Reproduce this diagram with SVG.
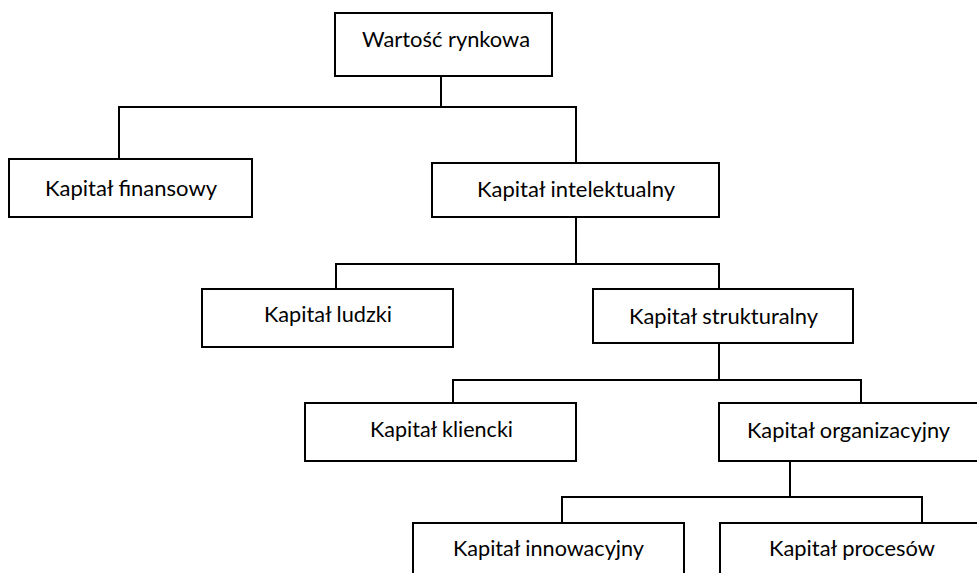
<svg xmlns="http://www.w3.org/2000/svg" width="977" height="573" viewBox="0 0 977 573">
<style>
.box{fill:#fff;stroke:#000;stroke-width:2}
.lbl{font-family:Lato,"Open Sans","Liberation Sans",sans-serif;font-size:22px;fill:#000}
.con{fill:none;stroke:#000;stroke-width:2}
</style>
<rect width="977" height="573" fill="#fff"/>
<g id="connectors">
<path class="con" d="M441,76V107M119,159V107H576V163"/>
<path class="con" d="M576,217V264M336,289V264H719V289"/>
<path class="con" d="M719,343V380M453,403V380H861V403"/>
<path class="con" d="M790,461V497M562,523V497H922V523"/>
</g>
<g id="n-wartosc"><rect class="box" x="335" y="13" width="217" height="63"/><text class="lbl" x="362" y="47" textLength="168" lengthAdjust="spacingAndGlyphs">Wartość rynkowa</text></g>
<g id="n-finansowy"><rect class="box" x="9" y="159" width="243" height="58"/><text class="lbl" x="45" y="196" textLength="172" lengthAdjust="spacingAndGlyphs">Kapitał finansowy</text></g>
<g id="n-intelektualny"><rect class="box" x="432" y="163" width="287" height="54"/><text class="lbl" x="477" y="197" textLength="198" lengthAdjust="spacingAndGlyphs">Kapitał intelektualny</text></g>
<g id="n-ludzki"><rect class="box" x="202" y="289" width="251" height="58"/><text class="lbl" x="264" y="322" textLength="128" lengthAdjust="spacingAndGlyphs">Kapitał ludzki</text></g>
<g id="n-strukturalny"><rect class="box" x="593" y="289" width="260" height="54"/><text class="lbl" x="629" y="324" textLength="189" lengthAdjust="spacingAndGlyphs">Kapitał strukturalny</text></g>
<g id="n-kliencki"><rect class="box" x="305" y="403" width="271" height="58"/><text class="lbl" x="370" y="437" textLength="143" lengthAdjust="spacingAndGlyphs">Kapitał kliencki</text></g>
<g id="n-organizacyjny"><rect class="box" x="719" y="403" width="262" height="58"/><text class="lbl" x="747" y="438" textLength="203" lengthAdjust="spacingAndGlyphs">Kapitał organizacyjny</text></g>
<g id="n-innowacyjny"><rect class="box" x="413" y="523" width="271" height="60"/><text class="lbl" x="453" y="556" textLength="191" lengthAdjust="spacingAndGlyphs">Kapitał innowacyjny</text></g>
<g id="n-procesow"><rect class="box" x="720" y="523" width="266" height="60"/><text class="lbl" x="769" y="556" textLength="166" lengthAdjust="spacingAndGlyphs">Kapitał procesów</text></g>
</svg>
